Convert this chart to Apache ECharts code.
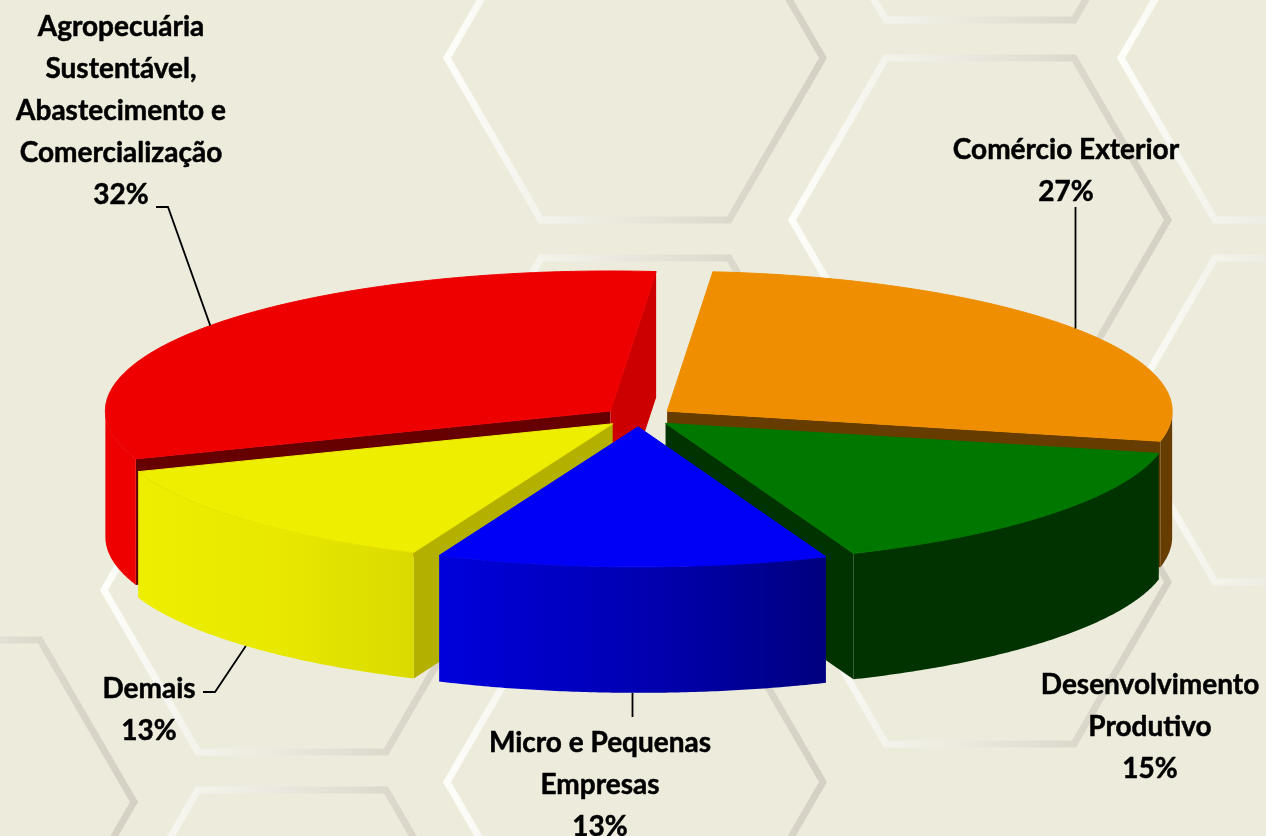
<!DOCTYPE html>
<html>
<head>
<meta charset="utf-8">
<title>Pie</title>
<script src="https://cdn.jsdelivr.net/npm/echarts@6/dist/echarts.min.js"></script>
<style>
html, body { margin: 0; padding: 0; background: #edecdc; }
#chart { width: 1266px; height: 836px; }
</style>
</head>
<body>
<div id="chart"></div>
<script>
// dados
const categories = [
  'Agropecuária\nSustentável,\nAbastecimento e\nComercialização',
  'Comércio Exterior',
  'Desenvolvimento\nProdutivo',
  'Micro e Pequenas\nEmpresas',
  'Demais'
]
const values = [32, 27, 15.49, 12.51, 13]

// cores de cada fatia
const topColors = ['#ee0000', '#ee8e00', '#007800', '#0000f6', '#eeee00']
const wallColors = [
  ['#ee0000', '#ee0000'],
  ['#663c00', '#663c00'],
  ['#003300', '#003300'],
  ['#0000dc', '#0000b4', '#000080'],
  ['#eeee00', '#e8e800', '#dada00']
]
const startFaceColors = ['#660000', null, null, null, '#b3b000']
const endFaceColors = ['#cc0000', '#663c00', '#003300', null, null]

// layout dos rotulos
const labelPos = [[121, 111], [1066, 171], [1150, 727], [600, 785], [149, 710]]
const leaderTails = [
  [[168, 207], [156, 207]],
  [[null, 207]],
  null,
  [[null, 717]],
  [[215, 692], [203, 692]]
]

// hexagonos do fundo
const hexCenters = [
  [635, 58], [635, 420], [635, 782],
  [980, -142], [980, 220], [980, 582],
  [1309, 58], [1309, 420],
  [292, 590], [292, 952],
  [-54, 802]
]

// geometria da pizza
const pie = { cx: 638.5, cy: 417, a: 505, b: 140, depth: 126, explode: 0.0703, startAngle: 250 }
const total = values.reduce((s, v) => s + v, 0)

const rad = deg => deg * Math.PI / 180

function sliceAngles (index) {
  let start = pie.startAngle
  for (let i = 0; i < index; i++) start += values[i] / total * 360
  return [start, start + values[index] / total * 360]
}

function rimPoint (apex, angle, dy) {
  return [
    apex[0] + pie.a * Math.sin(rad(angle)),
    apex[1] - pie.b * Math.cos(rad(angle)) + (dy || 0)
  ]
}

function arcPoints (apex, from, to, dy) {
  const pts = []
  const steps = Math.max(2, Math.ceil((to - from) * 2))
  for (let i = 0; i <= steps; i++) {
    pts.push(rimPoint(apex, from + (to - from) * i / steps, dy))
  }
  return pts
}

function facePolygon (apex, angle, color, z2) {
  const rim = rimPoint(apex, angle)
  return {
    type: 'polygon',
    z2: z2,
    shape: { points: [apex, rim, [rim[0], rim[1] + pie.depth], [apex[0], apex[1] + pie.depth]] },
    style: { fill: color }
  }
}

function renderSlice (params, api) {
  const idx = params.dataIndex
  const angles = sliceAngles(idx)
  const start = angles[0]
  const end = angles[1]
  const mid = (start + end) / 2
  const apex = [
    pie.cx + pie.a * pie.explode * Math.sin(rad(mid)),
    pie.cy - pie.b * pie.explode * Math.cos(rad(mid))
  ]
  // de tras para frente
  const z2 = Math.round((1 - Math.cos(rad(mid))) * 10) * 3
  const children = []

  if (startFaceColors[idx]) children.push(facePolygon(apex, start, startFaceColors[idx], z2))
  if (endFaceColors[idx]) children.push(facePolygon(apex, end, endFaceColors[idx], z2))

  // a parede so aparece na metade da frente (90 a 270, ou 450 a 630 depois de uma volta)
  const turn = start >= 360 ? 360 : 0
  const wallFrom = Math.max(start, 90 + turn)
  const wallTo = Math.min(end, 270 + turn)
  if (wallTo > wallFrom) {
    const stops = wallColors[idx]
    children.push({
      type: 'polygon',
      z2: z2 + 1,
      shape: {
        points: arcPoints(apex, wallFrom, wallTo, 0).concat(arcPoints(apex, wallFrom, wallTo, pie.depth).reverse())
      },
      style: {
        fill: new echarts.graphic.LinearGradient(0, 0, 1, 0, stops.map((c, i) => ({
          offset: i / (stops.length - 1),
          color: c
        })))
      }
    })
  }

  children.push({
    type: 'polygon',
    z2: z2 + 2,
    shape: { points: [apex].concat(arcPoints(apex, start, end, 0)) },
    style: { fill: topColors[idx], stroke: topColors[idx], lineWidth: 1 }
  })

  // linha de chamada
  if (leaderTails[idx]) {
    const front = Math.cos(rad(mid)) < 0
    const anchor = rimPoint(apex, mid, front ? pie.depth : 0)
    const x0 = Math.round(anchor[0]) + 0.5
    const line = [[leaderTails[idx][0][0] === null ? x0 : anchor[0], anchor[1]]]
    leaderTails[idx].forEach(p => line.push([p[0] === null ? x0 : p[0], p[1]]))
    children.push({
      type: 'polyline',
      z2: 100,
      shape: { points: line },
      style: { stroke: '#000', lineWidth: 1.8, fill: null }
    })
  }

  children.push({
    type: 'text',
    z2: 101,
    x: labelPos[idx][0],
    y: labelPos[idx][1],
    style: {
      text: categories[idx] + '\n' + Math.round(api.value(0)) + '%',
      fill: '#000',
      stroke: '#000',
      lineWidth: 0.5,
      fontFamily: 'Lato',
      fontWeight: 'bold',
      fontSize: 28,
      lineHeight: 42,
      align: 'center',
      verticalAlign: 'middle'
    }
  })

  return { type: 'group', children: children }
}

function hexGraphic (center) {
  const x = center[0]
  const y = center[1]
  return {
    type: 'polygon',
    silent: true,
    z: 0,
    shape: {
      points: [[x - 188, y], [x - 94, y - 162], [x + 94, y - 162], [x + 188, y], [x + 94, y + 162], [x - 94, y + 162]]
    },
    style: {
      fill: null,
      lineWidth: 7,
      lineJoin: 'miter',
      stroke: new echarts.graphic.LinearGradient(0, 0, 1, 0, [
        { offset: 0, color: '#fdfdfa' },
        { offset: 0.3, color: '#f2f1e9' },
        { offset: 0.75, color: '#dcd8cc' },
        { offset: 1, color: '#d5d0c4' }
      ])
    }
  }
}

const chart = echarts.init(document.getElementById('chart'))
chart.setOption({
  animation: false,
  backgroundColor: '#edecdc',
  graphic: { elements: hexCenters.map(hexGraphic) },
  series: [{
    type: 'custom',
    coordinateSystem: 'none',
    z: 5,
    silent: true,
    clip: false,
    data: values,
    renderItem: renderSlice
  }]
})
</script>
</body>
</html>
